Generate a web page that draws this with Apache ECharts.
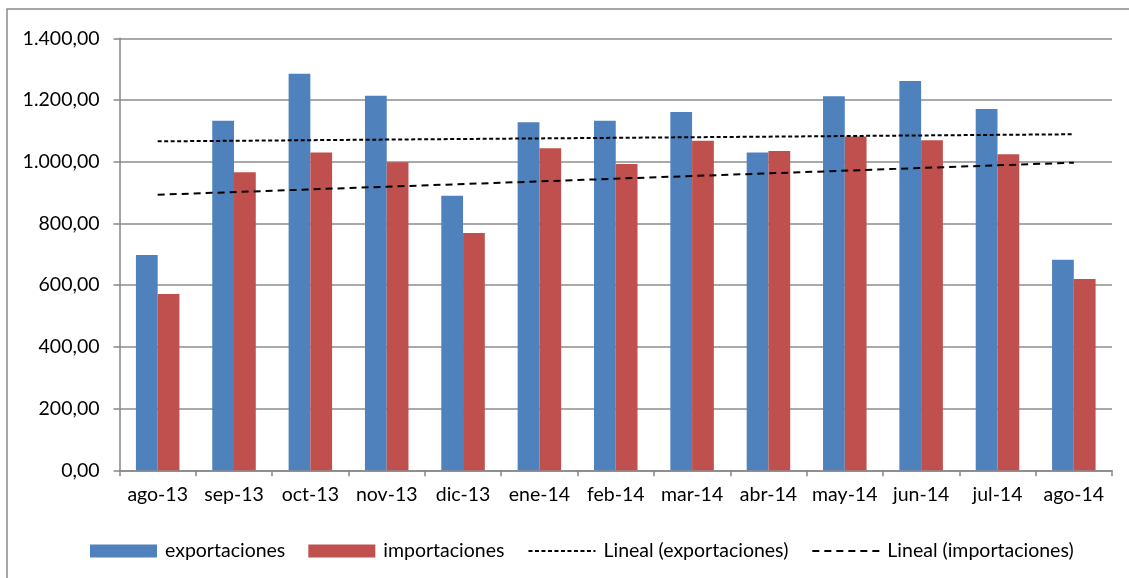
<!DOCTYPE html>
<html>
<head>
<meta charset="utf-8">
<script src="https://cdn.jsdelivr.net/npm/echarts@6/dist/echarts.min.js"></script>
<style>
html,body{margin:0;padding:0;background:#fff;}
#chart{width:1129px;height:578px;}
</style>
</head>
<body>
<div id="chart"></div>
<script>
const categories = ['ago-13','sep-13','oct-13','nov-13','dic-13','ene-14','feb-14','mar-14','abr-14','may-14','jun-14','jul-14','ago-14'];
const exportaciones = [698,1133,1285,1214,890,1128,1133,1161,1030,1212,1262,1171,682];
const importaciones = [571,966,1030,998,769,1044,993,1068,1035,1082,1070,1024,620];
const linealExport = [1066,null,null,null,null,null,null,null,null,null,null,null,1089];
const linealImport = [893,null,null,null,null,null,null,null,null,null,null,null,997];
const yTickLabels = ['0,00','200,00','400,00','600,00','800,00','1.000,00','1.200,00','1.400,00'];

const chart = echarts.init(document.getElementById('chart'));
const font = 'Lato';
const fs = 19.5;
chart.setOption({
  animation: false,
  backgroundColor: '#fff',
  textStyle: {fontFamily: font},
  graphic: [{
    type: 'rect',
    shape: {x: 7, y: 9, width: 1300, height: 800},
    style: {fill: 'none', stroke: '#8a8a8a', lineWidth: 1.5},
    silent: true, z: -1
  }],
  grid: {left: 119.5, right: 17, top: 38.3, bottom: 107.7, containLabel: false},
  legend: {
    left: 85, top: 536,
    itemWidth: 67, itemHeight: 13, itemGap: 23,
    textStyle: {fontFamily: font, fontSize: fs, color: '#000', padding: [0,0,0,3]},
    data: [
      {name: 'exportaciones', icon: 'rect'},
      {name: 'importaciones', icon: 'rect'},
      {name: 'Lineal (exportaciones)', itemStyle: {opacity: 0}},
      {name: 'Lineal (importaciones)', itemStyle: {opacity: 0}}
    ]
  },
  xAxis: {
    type: 'category',
    data: categories,
    boundaryGap: true,
    axisLine: {lineStyle: {color: '#868686', width: 1.5}},
    axisTick: {show: true, length: 6, interval: 0, lineStyle: {color: '#868686', width: 1.5}},
    axisLabel: {fontFamily: font, fontSize: fs, color: '#000', margin: 14, interval: 0}
  },
  yAxis: {
    type: 'value',
    min: 0, max: 1400, interval: 200,
    axisLine: {show: true, lineStyle: {color: '#868686', width: 1.5}},
    axisTick: {show: true, length: 6, lineStyle: {color: '#868686', width: 1.5}},
    splitLine: {lineStyle: {color: '#8c8c8c', width: 1.5}},
    axisLabel: {
      fontFamily: font, fontSize: fs, color: '#000', margin: 20,
      formatter: v => yTickLabels[Math.round(v / 200)]
    }
  },
  series: [
    {
      name: 'exportaciones', type: 'bar', data: exportaciones,
      barGap: '0%', barCategoryGap: '43%',
      itemStyle: {color: '#4F81BD'}
    },
    {
      name: 'importaciones', type: 'bar', data: importaciones,
      barGap: '0%', barCategoryGap: '43%',
      itemStyle: {color: '#C0504D'}
    },
    {
      name: 'Lineal (exportaciones)', type: 'line', data: linealExport,
      connectNulls: true, symbol: 'none', z: 5,
      itemStyle: {color: '#000'},
      lineStyle: {color: '#000', width: 2, type: [4, 2.5]}
    },
    {
      name: 'Lineal (importaciones)', type: 'line', data: linealImport,
      connectNulls: true, symbol: 'none', z: 5,
      itemStyle: {color: '#000'},
      lineStyle: {color: '#000', width: 2, type: [7, 5]}
    }
  ]
});
</script>
</body>
</html>
